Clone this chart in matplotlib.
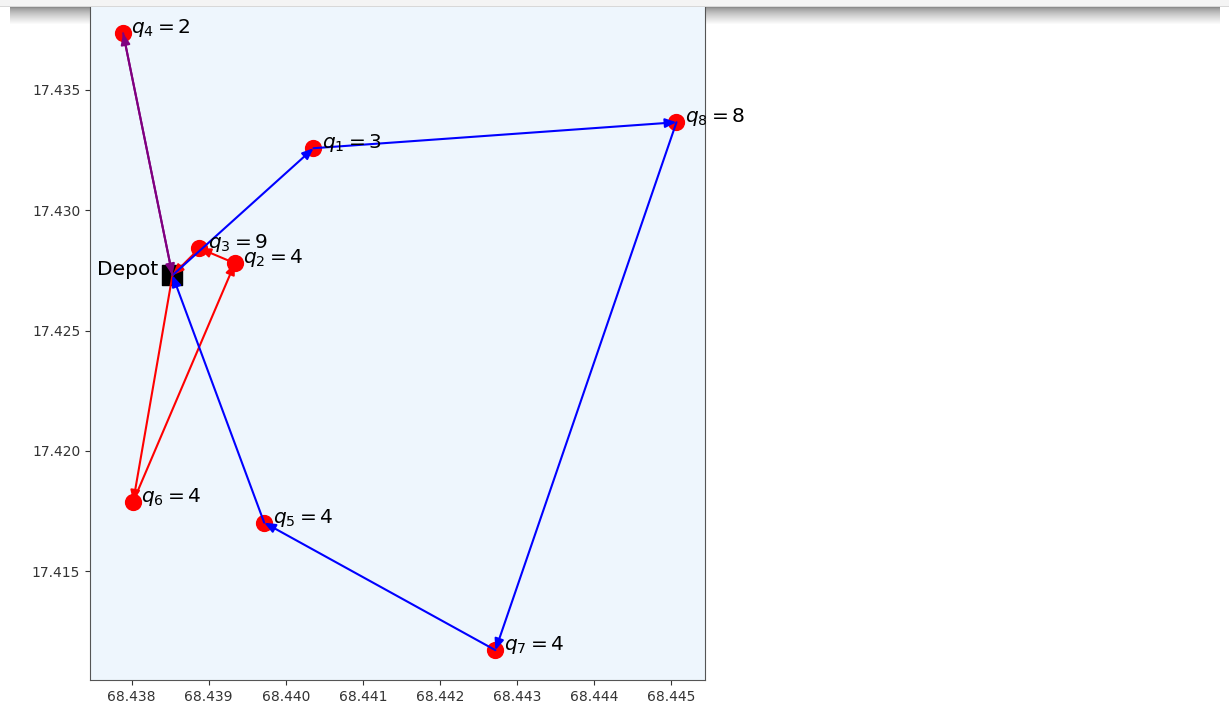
import numpy as np
import matplotlib.pyplot as plt
from matplotlib.patches import Rectangle

# node coordinates (0 = depot), demands q_i
lon = [68.43853, 68.44036, 68.43934, 68.43888, 68.43789, 68.43972, 68.43802, 68.44272, 68.44507]
lat = [17.42730, 17.43258, 17.42780, 17.42842, 17.43736, 17.41702, 17.41789, 17.41172, 17.43366]
demand = [0, 3, 4, 9, 2, 4, 4, 4, 8]

routes = [[0, 6, 2, 3, 0], [0, 1, 8, 7, 5, 0], [0, 4, 0]]
route_colors = ['red', 'blue', 'purple']

xticks = [68.438, 68.439, 68.440, 68.441, 68.442, 68.443, 68.444, 68.445]
yticks = [17.415, 17.420, 17.425, 17.430, 17.435]

W, H = 1229, 713
fig = plt.figure(figsize=(W/100, H/100), dpi=100)
ax = fig.add_axes([90/W, 1 - 680/H, 615/W, 680/H])
ax.set_facecolor('#eef6fd')

# screenshot-like shadow and top bar
for k in range(18):
    g = 0.55 + 0.45*(k/17)**0.7
    fig.add_artist(Rectangle(((10)/W, 1 - (8 + k)/H), 1210/W, 1/H,
                             transform=fig.transFigure, color=(g, g, g), lw=0, zorder=-1))
fig.add_artist(Rectangle((0, 1 - 7/H), 1, 7/H, transform=fig.transFigure,
                         color='#f4f4f4', lw=0, zorder=5))
fig.add_artist(Rectangle((0, 1 - 7/H), 1, 1/H, transform=fig.transFigure,
                         color='#d8d8d8', lw=0, zorder=5))

ax.scatter(lon[1:], lat[1:], s=130, color='red', zorder=2)
ax.scatter(lon[0], lat[0], s=200, marker='s', color='black', zorder=2)

for route, c in zip(routes, route_colors):
    for a, b in zip(route[:-1], route[1:]):
        ax.annotate('', xy=(lon[b], lat[b]), xytext=(lon[a], lat[a]),
                    arrowprops=dict(arrowstyle='-|>,head_length=0.6,head_width=0.25',
                                    color=c, lw=1.5, shrinkA=0, shrinkB=0,
                                    mutation_scale=11), zorder=3)

for i in range(1, len(lon)):
    ax.annotate(r'$q_{%d} = %d$' % (i, demand[i]), (lon[i], lat[i]),
                xytext=(6, 0), textcoords='offset points',
                ha='left', va='baseline', fontsize=14.5, zorder=4)
ax.annotate('Depot', (lon[0], lat[0]), xytext=(-10, 0), textcoords='offset points',
            ha='right', va='baseline', fontsize=14.5, zorder=4)

ax.set_xlim(68.43746, 68.44544)
ax.set_ylim(17.41048, 17.43874)
ax.set_xticks(xticks)
ax.set_yticks(yticks)
ax.set_xticklabels(['%.3f' % v for v in xticks])
ax.set_yticklabels(['%.3f' % v for v in yticks])
ax.tick_params(labelsize=10, colors='#333333')
for s in ax.spines.values():
    s.set_color('#555555')

fig.savefig('out.png', dpi=100)
